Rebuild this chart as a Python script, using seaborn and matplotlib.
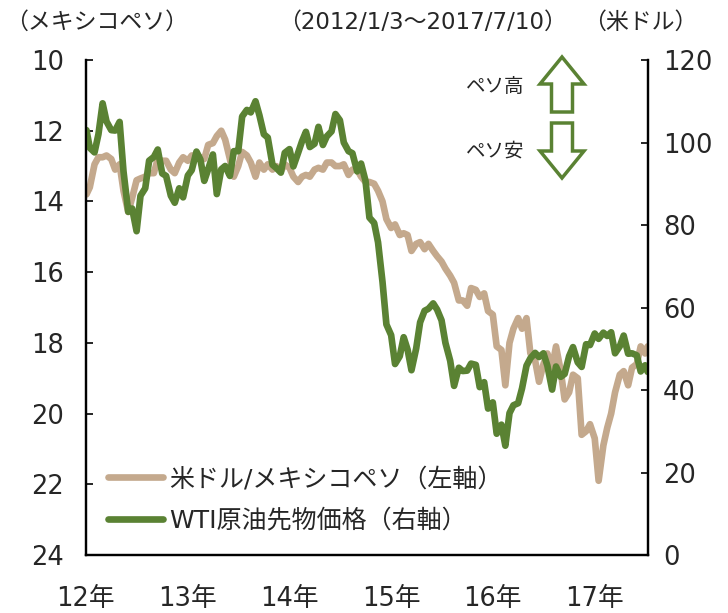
"""メキシコペソとWTI原油価格の推移"""

import matplotlib
matplotlib.use("Agg")
import matplotlib.pyplot as plt
from matplotlib.patches import FancyArrow
import seaborn as sns
import numpy as np
import pandas as pd

# 半月ごとの日付（2012/1/3～2017/7/10）
dates = list(pd.date_range("2012-01-01", "2017-07-01", freq="SMS"))
dates[0] = pd.Timestamp("2012-01-03")
dates.append(pd.Timestamp("2017-07-10"))

# 米ドル/メキシコペソ（左軸）
usdmxn = [
    13.80, 13.60, 12.95, 12.75, 12.75, 12.70, 12.80, 13.10, 12.95, 13.70, 14.30, 13.90,
    13.40, 13.35, 13.30, 13.20, 13.20, 12.80, 12.85, 12.85, 13.10, 13.20, 12.90, 12.75,
    12.85, 12.70, 12.70, 12.75, 12.80, 12.40, 12.35, 12.15, 12.00, 12.25, 12.80, 13.30,
    13.00, 12.60, 12.70, 12.90, 13.30, 12.90, 13.10, 12.95, 13.10, 13.00, 13.15, 12.95,
    13.05, 13.30, 13.45, 13.30, 13.25, 13.30, 13.10, 13.05, 13.10, 12.90, 12.90, 13.00,
    13.00, 12.95, 13.25, 13.10, 13.10, 13.30, 13.45, 13.45, 13.50, 13.70, 14.00, 14.50,
    14.75, 14.65, 14.95, 14.90, 14.95, 15.40, 15.20, 15.15, 15.35, 15.20, 15.40, 15.55,
    15.70, 15.90, 16.10, 16.30, 16.80, 16.80, 16.95, 16.45, 16.50, 16.70, 16.60, 17.10,
    17.20, 18.10, 18.20, 19.20, 18.00, 17.60, 17.30, 17.60, 17.30, 18.30, 18.50, 19.10,
    18.60, 18.30, 18.70, 18.10, 18.80, 19.60, 19.40, 18.90, 19.00, 20.60, 20.50, 20.30,
    20.70, 21.90, 20.90, 20.40, 20.00, 19.40, 18.90, 18.80, 19.20, 18.70, 18.60, 18.10,
    18.30, 18.10,
]

# WTI原油先物価格（右軸）
wti = [
    103.0, 98.7, 97.6, 102.0, 109.5, 105.1, 103.0, 102.9, 105.0, 93.0, 83.2, 84.0,
    78.5, 87.1, 88.9, 95.6, 96.5, 98.3, 92.5, 91.9, 87.1, 85.4, 88.9, 86.7,
    92.0, 93.3, 97.8, 95.9, 90.7, 93.5, 97.1, 87.5, 93.5, 94.3, 91.9, 97.9,
    97.9, 106.3, 107.9, 107.3, 110.0, 106.6, 102.0, 101.2, 94.6, 93.8, 92.7, 97.5,
    98.4, 94.2, 97.5, 100.3, 102.6, 98.9, 99.7, 103.8, 99.4, 101.5, 102.7, 106.9,
    105.4, 100.0, 97.9, 97.4, 93.0, 94.9, 90.7, 81.8, 80.5, 75.8, 66.2, 55.9,
    53.3, 46.3, 48.2, 52.8, 49.8, 44.8, 50.1, 56.4, 59.2, 59.7, 61.0, 59.5,
    56.9, 51.4, 47.1, 41.0, 45.4, 44.6, 44.7, 46.4, 46.1, 40.7, 41.9, 35.5,
    37.0, 29.4, 31.6, 26.5, 34.4, 36.3, 36.8, 40.4, 45.9, 47.7, 49.0, 48.0,
    48.9, 45.9, 40.1, 45.7, 43.2, 43.9, 48.2, 50.4, 46.7, 45.6, 51.1, 50.9,
    53.7, 52.4, 53.9, 53.1, 54.0, 48.9, 50.6, 53.2, 48.8, 48.9, 48.4, 44.5,
    46.0, 44.4,
]

years = [2012, 2013, 2014, 2015, 2016, 2017]
year_labels = [f"{y % 100}年" for y in years]
left_ticks = [10, 12, 14, 16, 18, 20, 22, 24]
right_ticks = [0, 20, 40, 60, 80, 100, 120]

tan = "#C4A98D"
green = "#5A8233"

df = pd.DataFrame({"date": dates, "usdmxn": usdmxn, "wti": wti})

sns.set_theme(style="white")
plt.rcParams["font.family"] = ["DejaVu Sans", "Noto Sans CJK JP"]
plt.rcParams["font.size"] = 15

fig = plt.figure(figsize=(7.28, 6.13), dpi=100)
ax = fig.add_axes([0.118, 0.0946, 0.772, 0.8075])
ax2 = ax.twinx()

sns.lineplot(data=df, x="date", y="usdmxn", ax=ax, color=tan, lw=4.8,
             label="米ドル/メキシコペソ（左軸）", legend=False)
sns.lineplot(data=df, x="date", y="wti", ax=ax2, color=green, lw=4.8,
             label="WTI原油先物価格（右軸）", legend=False)

ax.set_xlim(pd.Timestamp("2012-01-01"), pd.Timestamp("2017-07-11"))
ax.set_ylim(24, 10)
ax2.set_ylim(0, 120)
ax.set_xticks([pd.Timestamp(f"{y}-01-01") for y in years])
ax.set_xticklabels(year_labels)
ax.set_yticks(left_ticks)
ax2.set_yticks(right_ticks)
ax.set_xlabel("")
ax.set_ylabel("")
ax2.set_ylabel("")

for a in (ax, ax2):
    a.spines["top"].set_visible(False)
    for s in ("left", "right", "bottom"):
        a.spines[s].set_linewidth(1.6)
        a.spines[s].set_color("black")
ax.tick_params(axis="y", direction="in", length=5, width=1.4, pad=16, labelsize=18.5)
ax.tick_params(axis="x", direction="in", length=6, width=1.4, pad=22, labelsize=18.5)
ax2.tick_params(axis="y", direction="in", length=5, width=1.4, pad=11, labelsize=18.5)

h1, l1 = ax.get_legend_handles_labels()
h2, l2 = ax2.get_legend_handles_labels()
ax2.legend(h1 + h2, l1 + l2, loc="lower left", bbox_to_anchor=(0.0, 0.0),
           frameon=False, fontsize=18, handlelength=2.2, handletextpad=0.25,
           labelspacing=0.7)

# 見出し
fig.text(5 / 728, 1 - 22 / 613, "（メキシコペソ）", ha="left", va="center", fontsize=16.5)
fig.text(422 / 728, 1 - 22 / 613, "（2012/1/3～2017/7/10）", ha="center", va="center", fontsize=16.5)
fig.text(640 / 728, 1 - 22 / 613, "（米ドル）", ha="center", va="center", fontsize=16.5)

# ペソ高・ペソ安の矢印
fig.text(524 / 728, 1 - 87 / 613, "ペソ高", ha="right", va="center", fontsize=14)
fig.text(524 / 728, 1 - 151 / 613, "ペソ安", ha="right", va="center", fontsize=14)
H = 6.13
fig.patches.append(FancyArrow(5.62, H - 1.12, 0, 0.55, width=0.21, head_width=0.44,
                              head_length=0.27, length_includes_head=True,
                              transform=fig.dpi_scale_trans, fc="white", ec=green, lw=2.5))
fig.patches.append(FancyArrow(5.62, H - 1.23, 0, -0.55, width=0.21, head_width=0.44,
                              head_length=0.27, length_includes_head=True,
                              transform=fig.dpi_scale_trans, fc="white", ec=green, lw=2.5))

fig.savefig("out.png", dpi=100)
